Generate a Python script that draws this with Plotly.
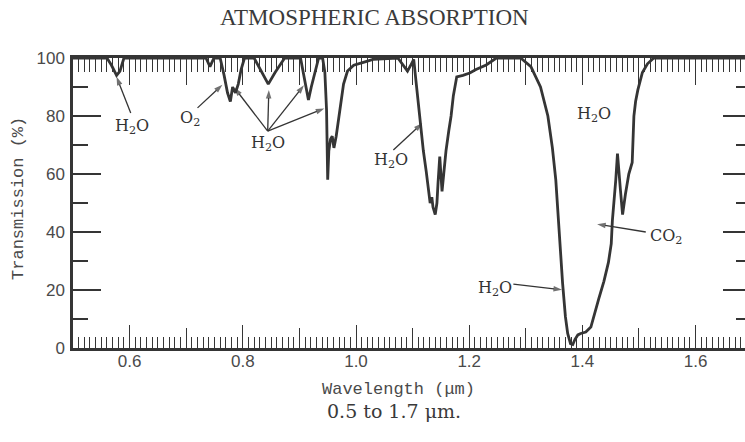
import plotly.graph_objects as go

# Transmission spectrum of the atmosphere, 0.5 - 1.7 um
wavelength_um = [
    0.500, 0.560, 0.568, 0.577, 0.583, 0.590,
    0.735, 0.742, 0.749,
    0.760, 0.767, 0.773, 0.778, 0.782, 0.787, 0.792, 0.797, 0.803,
    0.820, 0.834, 0.845, 0.857, 0.874,
    0.902, 0.909, 0.913, 0.916, 0.921, 0.927, 0.934,
    0.941, 0.945, 0.948, 0.950, 0.952, 0.955, 0.958, 0.961, 0.965, 0.969,
    0.973, 0.978, 0.985, 0.996, 1.013, 1.030,
    1.074, 1.083, 1.091, 1.098, 1.102,
    1.106, 1.110, 1.114, 1.119, 1.124, 1.128, 1.131, 1.134, 1.136, 1.140,
    1.143, 1.145, 1.148, 1.150, 1.152, 1.155, 1.159, 1.164, 1.168, 1.172,
    1.175, 1.178, 1.189, 1.201, 1.212, 1.230, 1.248,
    1.291, 1.309, 1.326, 1.339, 1.347, 1.353, 1.358, 1.365, 1.370, 1.374,
    1.379, 1.383, 1.387, 1.392, 1.397, 1.406, 1.415, 1.420, 1.429, 1.438,
    1.446, 1.451, 1.453, 1.459, 1.462, 1.467, 1.471, 1.476, 1.482, 1.488,
    1.490, 1.491, 1.494, 1.498, 1.506, 1.515, 1.526, 1.700,
]
transmission_pct = [
    100, 100, 97.5, 94, 95.5, 100,
    100, 97, 100,
    100, 94, 88, 85, 90, 88, 91, 96, 100,
    100, 95, 91, 95, 100,
    100, 93, 88, 85.5, 90, 95, 100,
    100, 95, 82, 58, 68, 72, 73, 69, 73, 79,
    85, 91, 95.5, 97.5, 98.5, 99.5,
    100, 97.5, 95.5, 98, 99.5,
    92, 84, 77.6, 68, 61, 54, 50, 52, 48.6, 46,
    50, 57, 66, 60, 54, 60, 68, 75, 80, 87,
    91, 93.5, 94, 94.8, 96, 97.6, 100,
    100, 97, 90, 80, 69, 58, 42, 22.4, 10.8, 5,
    1.5, 1.2, 3, 4.5, 5, 5.5, 7.2, 11, 17, 23,
    29.5, 36, 44, 58, 67, 55, 46, 53, 60, 64,
    72, 80, 85, 89, 95, 98, 100, 100,
]

x_labeled = [0.6, 0.8, 1.0, 1.2, 1.4, 1.6]
x_labels = ["0.6", "0.8", "1.0", "1.2", "1.4", "1.6"]
x_between = [0.7, 0.9, 1.1, 1.3, 1.5]
x_all_major = sorted(x_labeled + x_between)
y_major = [0, 20, 40, 60, 80, 100]
y_labels = ["0", "20", "40", "60", "80", "100"]

INK = "#353535"
TEXT = "#4a4a4a"
ARROW = "#343434"
X_RANGE = [0.5, 1.6873]

fig = go.Figure()
fig.add_trace(go.Scatter(
    x=wavelength_um, y=transmission_pct, mode="lines",
    line=dict(color=INK, width=2.8), hoverinfo="skip", showlegend=False,
))
# empty traces that bring up the top/right scales and the unlabeled ticks
fig.add_trace(go.Scatter(x=[], y=[], xaxis="x2", yaxis="y2",
                         showlegend=False, hoverinfo="skip"))
fig.add_trace(go.Scatter(x=[], y=[], xaxis="x3", yaxis="y",
                         showlegend=False, hoverinfo="skip"))

tick_font = dict(family="Liberation Sans", size=17, color=TEXT)
minor_x = dict(ticks="inside", dtick=0.01, tick0=0.5, tickwidth=1.1,
               tickcolor=INK, showgrid=False)

fig.update_layout(
    width=745, height=442,
    margin=dict(l=73, r=0, t=58, b=94),
    paper_bgcolor="white", plot_bgcolor="white",
    xaxis=dict(
        range=X_RANGE, showgrid=False, zeroline=False,
        showline=True, linecolor=INK, linewidth=3,
        ticks="inside", tickvals=x_labeled, ticktext=x_labels,
        ticklen=23, tickwidth=1.3, tickcolor=INK,
        tickfont=tick_font, ticklabelstandoff=-4,
        minor=dict(ticklen=11, **minor_x),
    ),
    xaxis3=dict(
        range=X_RANGE, overlaying="x", side="bottom", showgrid=False,
        zeroline=False, showline=False, ticks="inside",
        tickvals=x_between, ticklen=20, tickwidth=1.3, tickcolor=INK,
        showticklabels=False,
    ),
    xaxis2=dict(
        range=X_RANGE, overlaying="x", side="top", showgrid=False,
        zeroline=False, showline=True, linecolor=INK, linewidth=2.6,
        ticks="inside", tickvals=x_all_major, ticklen=27, tickwidth=1.3,
        tickcolor=INK, showticklabels=False,
        minor=dict(ticklen=14, **minor_x),
    ),
    yaxis=dict(
        range=[0, 100], showgrid=False, zeroline=False,
        showline=True, linecolor=INK, linewidth=2.5,
        ticks="inside", tickvals=y_major, ticktext=y_labels,
        ticklen=28, tickwidth=1.6, tickcolor=INK,
        tickfont=tick_font, ticklabelstandoff=2,
        minor=dict(ticks="inside", dtick=10, ticklen=15, tickwidth=1.6,
                   tickcolor=INK, showgrid=False),
    ),
    yaxis2=dict(
        range=[0, 100], overlaying="y", side="right", showgrid=False,
        zeroline=False, showline=False,
        ticks="inside", tickvals=y_major, ticklen=22, tickwidth=1.6,
        tickcolor=INK, showticklabels=False,
        minor=dict(ticks="inside", dtick=10, ticklen=9, tickwidth=1.6,
                   tickcolor=INK, showgrid=False),
    ),
)

label_font = dict(family="DejaVu Serif", size=16, color="#333333")

# band labels
labels = [
    ("H<sub>2</sub>O", 0.605, 76.5),
    ("O<sub>2</sub>", 0.706, 79.0),
    ("H<sub>2</sub>O", 0.844, 70.5),
    ("H<sub>2</sub>O", 1.061, 64.5),
    ("H<sub>2</sub>O", 1.420, 80.5),
    ("CO<sub>2</sub>", 1.547, 38.5),
    ("H<sub>2</sub>O", 1.246, 20.5),
]
for txt, lx, ly in labels:
    fig.add_annotation(x=lx, y=ly, text=txt, showarrow=False,
                       font=label_font, xref="x", yref="y")

# pointer arrows from each label to its band: (tail x, tail y, tip x, tip y)
arrows = [
    (0.602, 81.0, 0.577, 93.5),
    (0.720, 82.8, 0.764, 90.8),
    (0.844, 74.8, 0.785, 89.8),
    (0.844, 74.8, 0.846, 89.0),
    (0.844, 74.8, 0.908, 90.6),
    (0.844, 74.8, 0.944, 82.6),
    (1.066, 68.3, 1.117, 77.5),
    (1.512, 40.0, 1.426, 42.7),
    (1.278, 22.0, 1.364, 20.1),
]
for sx, sy, tx, ty in arrows:
    fig.add_trace(go.Scatter(
        x=[sx, tx], y=[sy, ty], mode="lines+markers",
        line=dict(color=ARROW, width=1.3),
        marker=dict(symbol="arrow", size=[0, 9], angleref="previous",
                    color=ARROW, line=dict(width=0)),
        hoverinfo="skip", showlegend=False, cliponaxis=False,
    ))

# titles
fig.add_annotation(text="ATMOSPHERIC ABSORPTION", xref="paper", yref="paper",
                   x=0.449, y=1.141, showarrow=False, xanchor="center",
                   yanchor="middle",
                   font=dict(family="Liberation Serif", size=23, color="#3a3a3a"))
fig.add_annotation(text="Wavelength (\u03bcm)", xref="paper", yref="paper",
                   x=0.484, y=-0.142, showarrow=False, yanchor="middle",
                   font=dict(family="Liberation Mono", size=17, color=TEXT))
fig.add_annotation(text="Transmission (%)", xref="paper", yref="paper",
                   x=-0.082, y=0.517, showarrow=False, textangle=-90,
                   xanchor="center", yanchor="middle",
                   font=dict(family="Liberation Mono", size=17, color=TEXT))
fig.add_annotation(text="0.5 to 1.7 \u03bcm.", xref="paper", yref="paper",
                   x=0.478, y=-0.217, showarrow=False, yanchor="middle",
                   font=dict(family="DejaVu Serif", size=19, color="#3a3a3a"))

fig.write_html("out.html")
